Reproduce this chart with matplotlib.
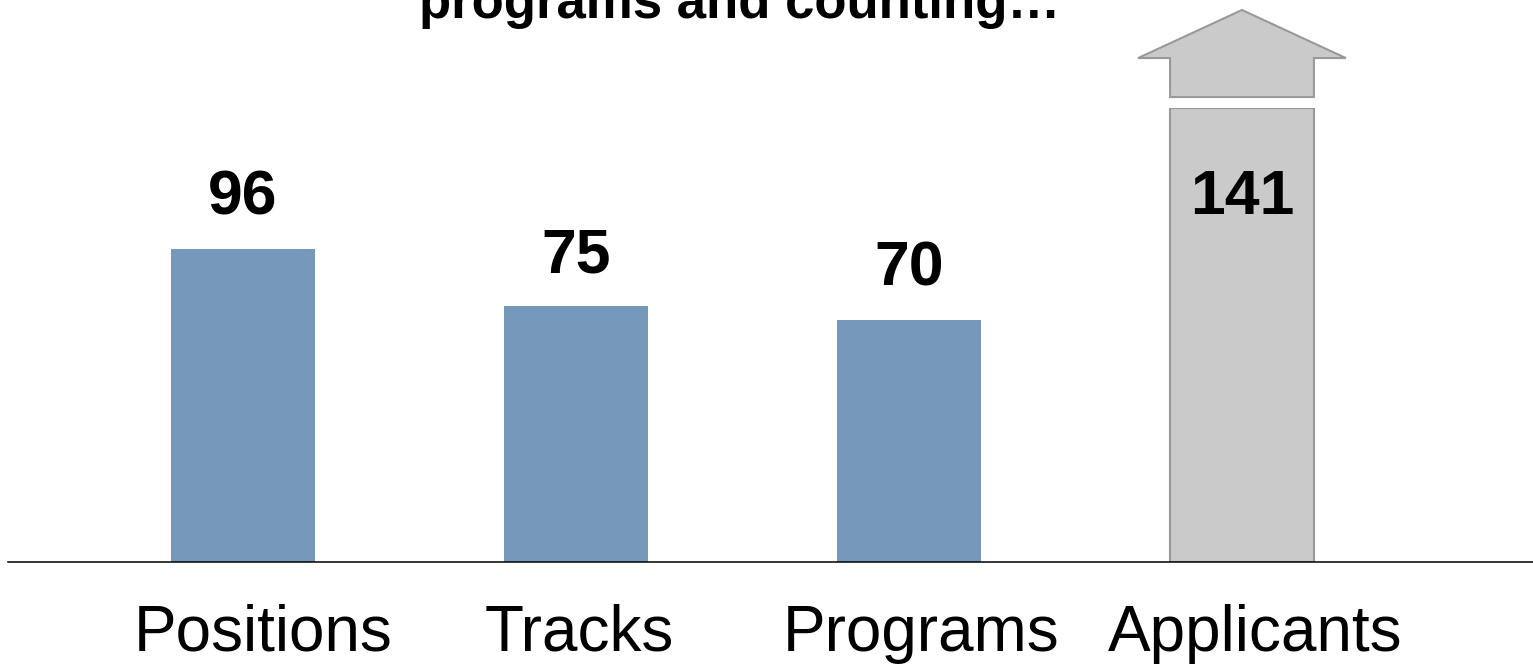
import matplotlib
matplotlib.use("Agg")
import matplotlib.pyplot as plt
from matplotlib.patches import Polygon
import matplotlib.transforms as mtransforms

categories = ["Positions", "Tracks", "Programs", "Applicants"]
values = [96, 75, 70, 141]
title_text = "programs and counting\u2026"

blue = "#7698BA"
gray = "#CACACA"
gray_edge = "#999999"

plt.rcParams['font.family'] = ['Liberation Sans', 'DejaVu Sans']

fig = plt.figure(figsize=(15.33, 6.64), dpi=100)
ax = fig.add_axes([8/1533, 102/664, 1525/1533, 454/664])

# value axis does not start at zero in the original chart
y_base, y_top = -18.7, 147.6
ax.set_xlim(-0.706, 3.874)
ax.set_ylim(y_base, y_top)

x = list(range(len(categories)))
width = 0.432
blue_vals = values[:3]
ax.bar(x[:3], [v - y_base for v in blue_vals], bottom=y_base, width=width,
       color=blue, edgecolor="none")
# Applicants is off the scale: its bar is broken at the top of the plot
ax.bar(x[3], max(values[3], y_top) - y_base, bottom=y_base, width=width,
       color=gray, edgecolor=gray_edge, linewidth=1.5)

for s in ["top", "left", "right"]:
    ax.spines[s].set_visible(False)
ax.spines["bottom"].set_linewidth(1.1)
ax.spines["bottom"].set_color("black")
ax.set_yticks([])
ax.set_xticks(x)
ax.set_xticklabels(categories, fontsize=46)
ax.tick_params(axis="x", length=0, pad=30)
label_shift_px = [20, 3, 12, 13]
for lbl, dx in zip(ax.get_xticklabels(), label_shift_px):
    lbl.set_transform(lbl.get_transform() + mtransforms.ScaledTranslation(dx / 100, 0, fig.dpi_scale_trans))

# value labels
for i, v in enumerate(blue_vals):
    ax.annotate(str(v), (x[i], v), xytext=(0, 24.5), textcoords="offset points",
                ha="center", va="baseline", fontsize=45, fontweight="bold")

trans = mtransforms.blended_transform_factory(ax.transData, ax.transAxes)
ax.text(x[3], 0.7665, str(values[3]), transform=trans, ha="center", va="baseline",
        fontsize=45, fontweight="bold")

# upward arrow above the broken Applicants bar
hw = width / 2
ww = 0.312
arrow_pts = [
    (x[3] - hw, 1.0242), (x[3] + hw, 1.0242), (x[3] + hw, 1.110), (x[3] + ww, 1.110),
    (x[3], 1.2159), (x[3] - ww, 1.110), (x[3] - hw, 1.110),
]
arrow = Polygon(arrow_pts, closed=True, facecolor=gray, edgecolor=gray_edge,
                linewidth=1.5, transform=trans, clip_on=False)
ax.add_patch(arrow)

fig.text(740/1533, 1 - 18/664, title_text, ha="center", va="baseline",
         fontsize=38, fontweight="bold")

fig.savefig("out.png", dpi=100)
